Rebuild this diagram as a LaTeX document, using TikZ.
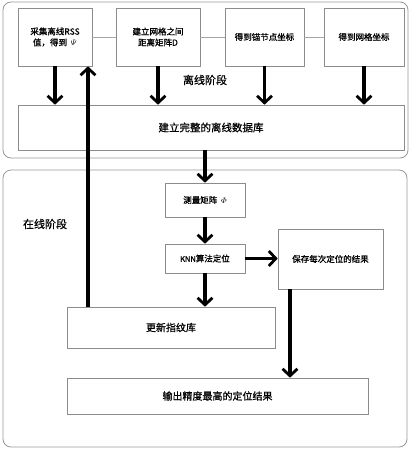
\documentclass[tikz,border=0pt]{standalone}
\usepackage{amsmath}
\usepackage{fontspec}
\newfontfamily\cjk[FakeBold=0.8]{Noto Sans CJK SC}
\usetikzlibrary{arrows.meta}
\begin{document}
\begin{tikzpicture}[x=1pt,y=-1pt,
  box/.style={draw=black!45,line width=0.6pt,fill=white,inner sep=0pt,align=center,font=\cjk\fontsize{8.5}{11}\selectfont},
  stage/.style={draw=black!40,line width=0.8pt,rounded corners=8pt},
  thick arrow/.style={line width=3.4pt,-{Straight Barb[length=7pt,width=15pt,line width=2.8pt]}},
  thin link/.style={draw=black!35,line width=0.6pt},
  lbl/.style={font=\cjk\fontsize{11}{13}\selectfont}]
\useasboundingbox (0,0) rectangle (411,450);
% stage frames
\draw[stage] (3,2) rectangle (408,158);
\draw[stage] (3,170) rectangle (407,447);
\node[lbl] (offlbl) at (205,80) {离线阶段};
\node[lbl] (onlbl) at (45,224) {在线阶段};
% top boxes
\node[box,minimum width=74pt,minimum height=58pt] (b1) at (55,37) {采集离线RSS\\值，得到\ \ $\varPsi$};
\node[box,minimum width=84pt,minimum height=58pt] (b2) at (158,37) {建立网格之间\\距离矩阵D};
\node[box,minimum width=79pt,minimum height=58pt] (b3) at (264.5,37) {得到锚节点坐标};
\node[box,minimum width=80pt,minimum height=58pt] (b4) at (364,37) {得到网格坐标};
\draw[thin link] (b1.east) -- (b2.west);
\draw[thin link] (b2.east) -- (b3.west);
\draw[thin link] (b3.east) -- (b4.west);
% database
\node[box,minimum width=386pt,minimum height=45pt,font=\cjk\fontsize{10.5}{13}\selectfont] (db) at (211,127.5) {建立完整的离线数据库};
% online boxes
\node[box,minimum width=80pt,minimum height=34pt] (phi) at (205,200) {测量矩阵\ \ $\varPhi$};
\node[box,minimum width=80pt,minimum height=29pt] (knn) at (205,258.5) {{\fontsize{7.5}{9}\selectfont KNN}算法定位};
\node[box,minimum width=105pt,minimum height=60pt] (save) at (330.5,259) {保存每次定位的结果};
\node[box,minimum width=208pt,minimum height=41pt,font=\cjk\fontsize{10}{12}\selectfont] (upd) at (171,327.5) {更新指纹库};
\node[box,minimum width=301pt,minimum height=36pt,font=\cjk\fontsize{10}{12}\selectfont] (out) at (217.5,396) {输出精度最高的定位结果};
% arrows
\draw[thick arrow] (b1.south) -- (b1.south |- db.north);
\draw[thick arrow] (b2.south) -- (b2.south |- db.north);
\draw[thick arrow] (b3.south) -- (b3.south |- db.north);
\draw[thick arrow] (b4.south) -- (b4.south |- db.north);
\coordinate (upx) at (88,0);
\draw[thick arrow] (upx |- upd.north) -- (upx |- b1.south);
\draw[thick arrow] (db.south -| phi.north) -- (phi.north);
\draw[thick arrow] (phi.south) -- (knn.north);
\draw[thick arrow] (knn.east) -- (knn.east -| save.west);
\draw[thick arrow] (knn.south) -- (knn.south |- upd.north);
\coordinate (svx) at (290,0);
\draw[thick arrow] (svx |- save.south) -- (svx |- out.north);
\end{tikzpicture}
\end{document}
